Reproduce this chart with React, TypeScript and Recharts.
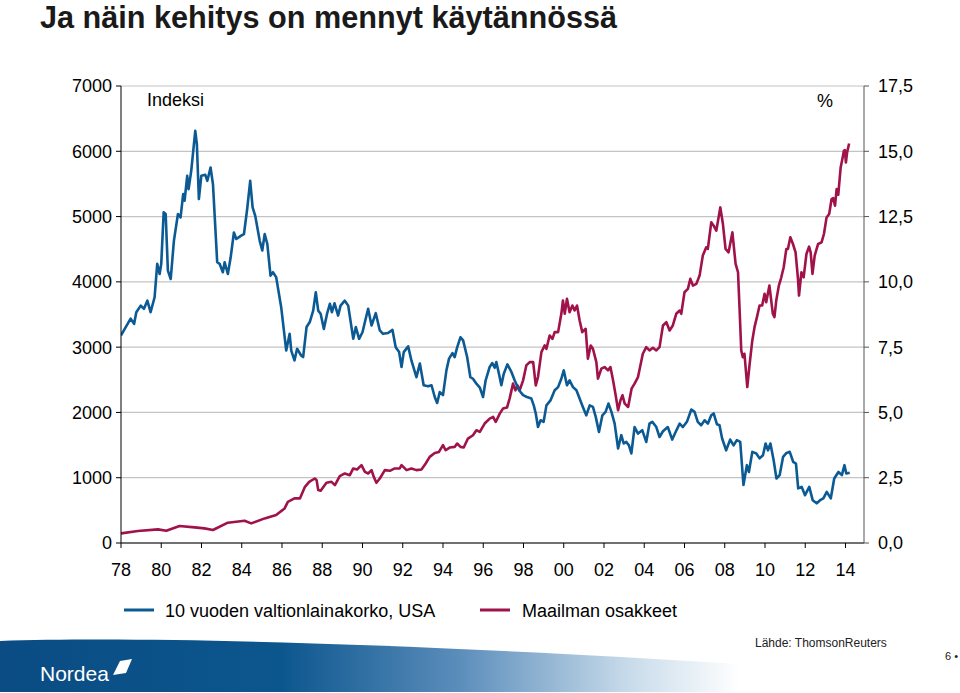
import React from 'react';
import { LineChart, Line, XAxis, YAxis, CartesianGrid } from 'recharts';

// 10-year US government bond yield (%), right axis
const yieldYears = [
  1978.0, 1978.48, 1978.65, 1978.76, 1978.98, 1979.14, 1979.31, 1979.47, 1979.67, 1979.8, 1979.92,
  1980.0, 1980.12, 1980.22, 1980.33, 1980.47, 1980.63, 1980.83, 1980.96, 1981.09, 1981.16, 1981.29,
  1981.36, 1981.49, 1981.69, 1981.77, 1981.87, 1981.99, 1982.19, 1982.29, 1982.45, 1982.57, 1982.78,
  1982.9, 1983.06, 1983.15, 1983.31, 1983.45, 1983.61, 1983.73, 1983.97, 1984.11, 1984.27, 1984.42,
  1984.54, 1984.67, 1984.89, 1985.02, 1985.14, 1985.27, 1985.43, 1985.55, 1985.71, 1985.96, 1986.21,
  1986.38, 1986.46, 1986.62, 1986.75, 1986.95, 1987.05, 1987.22, 1987.38, 1987.55, 1987.68, 1987.8,
  1987.92, 1988.08, 1988.24, 1988.38, 1988.48, 1988.61, 1988.79, 1988.91, 1989.12, 1989.29, 1989.54,
  1989.67, 1989.83, 1990.0, 1990.12, 1990.28, 1990.45, 1990.66, 1990.86, 1991.02, 1991.27, 1991.49,
  1991.65, 1991.82, 1991.94, 1992.05, 1992.27, 1992.43, 1992.68, 1992.85, 1993.04, 1993.26, 1993.43,
  1993.59, 1993.71, 1993.84, 1994.0, 1994.17, 1994.3, 1994.47, 1994.58, 1994.7, 1994.87, 1995.0,
  1995.2, 1995.36, 1995.49, 1995.66, 1995.83, 1995.99, 1996.12, 1996.32, 1996.45, 1996.57, 1996.65,
  1996.78, 1996.9, 1997.02, 1997.2, 1997.4, 1997.56, 1997.78, 1997.98, 1998.17, 1998.39, 1998.51,
  1998.61, 1998.72, 1998.85, 1999.0, 1999.14, 1999.34, 1999.55, 1999.72, 1999.88, 2000.0, 2000.16,
  2000.29, 2000.46, 2000.63, 2000.76, 2000.95, 2001.12, 2001.29, 2001.45, 2001.59, 2001.75, 2001.92,
  2002.08, 2002.22, 2002.37, 2002.53, 2002.7, 2002.86, 2002.98, 2003.11, 2003.24, 2003.36, 2003.52,
  2003.69, 2003.9, 2004.1, 2004.26, 2004.4, 2004.6, 2004.76, 2004.93, 2005.17, 2005.39, 2005.56,
  2005.76, 2005.92, 2006.12, 2006.34, 2006.5, 2006.66, 2006.83, 2007.0, 2007.16, 2007.33, 2007.45,
  2007.61, 2007.74, 2007.87, 2008.07, 2008.27, 2008.44, 2008.6, 2008.77, 2008.93, 2009.1, 2009.2,
  2009.37, 2009.57, 2009.73, 2009.9, 2010.03, 2010.15, 2010.27, 2010.43, 2010.57, 2010.73, 2010.9,
  2011.07, 2011.23, 2011.4, 2011.54, 2011.65, 2011.82, 2011.99, 2012.2, 2012.37, 2012.57, 2012.74,
  2012.9, 2013.07, 2013.27, 2013.44, 2013.65, 2013.82, 2013.95, 2014.04, 2014.21,
];
const yieldValues = [
  7.95, 8.59, 8.39, 8.84, 9.09, 8.97, 9.28, 8.84, 9.41, 10.69, 10.3,
  10.69, 12.66, 12.6, 10.43, 10.11, 11.58, 12.6, 12.47, 13.36, 13.11, 14.06,
  13.55, 14.25, 15.78, 15.27, 13.17, 14.06, 14.1, 13.87, 14.38, 13.74, 10.75,
  10.69, 10.37, 10.75, 10.3, 10.94, 11.89, 11.64, 11.77, 11.83, 12.79, 13.87,
  12.85, 12.53, 11.58, 11.2, 11.83, 11.45, 10.24, 10.37, 10.18, 9.03, 7.37,
  8.01, 7.37, 6.99, 7.44, 7.18, 7.12, 8.27, 8.46, 8.9, 9.6, 8.9,
  8.78, 8.2, 8.78, 9.16, 8.84, 9.18, 8.71, 9.09, 9.28, 9.09, 7.82,
  8.27, 7.82, 8.07, 8.46, 8.97, 8.33, 8.8, 8.14, 8.01, 8.04, 8.16,
  7.5, 7.31, 6.74, 7.31, 7.53, 6.99, 6.35, 6.87, 6.04, 6.0, 6.04,
  5.59, 5.36, 5.78, 5.66, 6.61, 7.06, 7.27, 7.12, 7.48, 7.88, 7.76,
  7.12, 6.35, 6.29, 6.1, 5.95, 5.59, 6.23, 6.74, 6.89, 6.71, 6.93,
  6.48, 6.04, 6.48, 6.84, 6.55, 6.23, 5.85, 5.66, 5.59, 5.53, 5.27,
  4.96, 4.44, 4.7, 4.64, 5.27, 5.46, 5.85, 5.97, 6.29, 6.61, 6.04,
  6.23, 5.97, 5.85, 5.59, 5.21, 4.89, 5.27, 5.21, 4.83, 4.25, 4.89,
  5.02, 5.34, 5.02, 4.57, 3.62, 4.13, 3.81, 3.87, 3.74, 3.43, 4.44,
  4.19, 4.32, 3.87, 4.57, 4.64, 4.44, 4.06, 4.28, 4.44, 3.96, 4.25,
  4.57, 4.44, 4.64, 5.11, 5.02, 4.64, 4.51, 4.7, 4.57, 4.89, 4.96,
  4.55, 4.51, 4.0, 3.55, 3.96, 3.74, 3.94, 3.87, 2.22, 2.98, 2.72,
  3.49, 3.43, 3.24, 3.36, 3.81, 3.55, 3.81, 3.17, 2.47, 2.6, 3.3,
  3.45, 3.49, 3.11, 3.04, 2.09, 2.15, 1.83, 2.15, 1.64, 1.52, 1.64,
  1.71, 1.96, 1.71, 2.47, 2.72, 2.6, 2.98, 2.66, 2.69,
];

// World equities index, left axis
const stockYears = [
  1978.0, 1978.84, 1979.84, 1980.25, 1980.91, 1981.66, 1982.15, 1982.57, 1983.31, 1984.14, 1984.47,
  1985.14, 1985.71, 1986.13, 1986.29, 1986.62, 1986.89, 1987.14, 1987.35, 1987.63, 1987.72, 1987.8,
  1987.92, 1988.21, 1988.46, 1988.63, 1988.87, 1989.12, 1989.37, 1989.54, 1989.73, 1989.95, 1990.12,
  1990.28, 1990.45, 1990.56, 1990.69, 1990.86, 1991.11, 1991.36, 1991.6, 1991.85, 1991.94, 1992.19,
  1992.43, 1992.68, 1992.93, 1993.14, 1993.34, 1993.59, 1993.8, 1994.0, 1994.13, 1994.33, 1994.58,
  1994.7, 1994.87, 1995.03, 1995.24, 1995.49, 1995.66, 1995.83, 1996.07, 1996.32, 1996.49, 1996.62,
  1996.82, 1996.98, 1997.18, 1997.31, 1997.48, 1997.6, 1997.7, 1997.81, 1997.98, 1998.14, 1998.31,
  1998.48, 1998.61, 1998.72, 1998.89, 1999.05, 1999.14, 1999.3, 1999.44, 1999.55, 1999.72, 1999.88,
  1999.96, 2000.05, 2000.16, 2000.29, 2000.43, 2000.54, 2000.66, 2000.79, 2000.92, 2001.09, 2001.2,
  2001.34, 2001.45, 2001.62, 2001.7, 2001.87, 2002.03, 2002.2, 2002.32, 2002.45, 2002.58, 2002.7,
  2002.82, 2002.92, 2003.03, 2003.2, 2003.37, 2003.52, 2003.69, 2003.93, 2004.1, 2004.26, 2004.43,
  2004.6, 2004.76, 2004.93, 2005.1, 2005.26, 2005.42, 2005.59, 2005.76, 2005.84, 2006.0, 2006.17,
  2006.29, 2006.42, 2006.59, 2006.75, 2006.91, 2007.08, 2007.16, 2007.33, 2007.45, 2007.58, 2007.78,
  2007.91, 2008.04, 2008.19, 2008.38, 2008.54, 2008.66, 2008.74, 2008.82, 2008.9, 2008.98, 2009.12,
  2009.23, 2009.37, 2009.48, 2009.6, 2009.73, 2009.86, 2009.98, 2010.06, 2010.22, 2010.39, 2010.47,
  2010.56, 2010.69, 2010.81, 2010.93, 2011.06, 2011.14, 2011.26, 2011.39, 2011.52, 2011.64, 2011.69,
  2011.81, 2011.92, 2012.06, 2012.19, 2012.27, 2012.36, 2012.47, 2012.64, 2012.81, 2012.93, 2013.06,
  2013.19, 2013.31, 2013.39, 2013.48, 2013.56, 2013.64, 2013.76, 2013.86, 2013.92, 2013.97, 2014.02,
  2014.08, 2014.18,
];
const stockValues = [
  148, 183, 209, 188, 260, 240, 224, 199, 311, 341, 301,
  377, 428, 530, 631, 683, 683, 861, 937, 988, 963, 810,
  800, 922, 937, 886, 1024, 1065, 1039, 1142, 1126, 1192, 1090,
  1065, 1116, 1014, 922, 988, 1116, 1106, 1142, 1142, 1192, 1116,
  1142, 1116, 1126, 1218, 1319, 1380, 1395, 1498, 1421, 1462, 1472,
  1524, 1472, 1462, 1600, 1651, 1727, 1701, 1830, 1906, 1931, 1854,
  1982, 2059, 2074, 2212, 2441, 2338, 2415, 2338, 2491, 2720, 2771,
  2771, 2415, 2542, 2924, 3026, 2975, 3179, 3128, 3230, 3230, 3511,
  3714, 3511, 3740, 3535, 3638, 3561, 3638, 3408, 3230, 3281, 2823,
  3026, 2975, 2771, 2517, 2670, 2695, 2644, 2695, 2491, 2262, 2033,
  2186, 2262, 2135, 2084, 2364, 2441, 2542, 2899, 3000, 2950, 2991,
  2950, 3000, 3332, 3382, 3255, 3332, 3511, 3561, 3511, 3841, 3893,
  4046, 3943, 3969, 4096, 4402, 4529, 4504, 4911, 4860, 4784, 5140,
  4886, 4504, 4452, 4758, 4275, 4147, 3561, 2950, 2847, 2899, 2389,
  2720, 3103, 3306, 3459, 3638, 3638, 3817, 3688, 3943, 3511, 3459,
  3714, 3943, 4070, 4223, 4504, 4504, 4682, 4580, 4452, 4046, 3790,
  4147, 4070, 4427, 4539, 4452, 4122, 4402, 4580, 4605, 4733, 4987,
  5039, 5268, 5283, 5166, 5421, 5334, 5751, 5904, 6007, 6017, 5828,
  5980, 6118,
];

const xTicks = [1978, 1980, 1982, 1984, 1986, 1988, 1990, 1992, 1994, 1996, 1998, 2000, 2002, 2004, 2006, 2008, 2010, 2012, 2014];
const leftTicks = [0, 1000, 2000, 3000, 4000, 5000, 6000, 7000];
const rightTicks = [0, 2.5, 5, 7.5, 10, 12.5, 15, 17.5];
const seriesNames = ['10 vuoden valtionlainakorko, USA', 'Maailman osakkeet'];

const yieldData = yieldYears.map((x, i) => ({ x, v: yieldValues[i] }));
const stockData = stockYears.map((x, i) => ({ x, v: stockValues[i] }));

const BLUE = '#0b5a94';
const RED = '#a0124a';
const FONT = "'Liberation Sans', Arial, Helvetica, sans-serif";
const tickStyle = { fill: '#000', fontSize: 18, fontFamily: FONT };

export default function App() {
  return (
    <div style={{ position: 'absolute', left: 0, top: 0, width: 960, height: 693, background: '#fff', overflow: 'hidden' }}>
      <svg width={960} height={693} style={{ position: 'absolute', left: 0, top: 0 }}>
        <defs>
          <linearGradient id="band" x1="0" y1="0" x2="1" y2="0">
            <stop offset="0" stopColor="#0a4c83" />
            <stop offset="0.38" stopColor="#0c568e" />
            <stop offset="0.62" stopColor="#5b8dbb" />
            <stop offset="0.85" stopColor="#c8dbea" />
            <stop offset="1" stopColor="#ffffff" />
          </linearGradient>
        </defs>
        <text x={40} y={28} fontSize={31} fontWeight="bold" fontFamily={FONT} fill="#1a1a1a" textLength={577} lengthAdjust="spacingAndGlyphs">
          Ja näin kehitys on mennyt käytännössä
        </text>
        <path d="M0,641 C150,636 420,644 740,664 L740,692 L0,692 Z" fill="url(#band)" />
        <text x={40} y={681} fontSize={21} fontFamily={FONT} fill="#fff">Nordea</text>
        <path d="M113,675 L120,661 L132,659 L126,673 Z" fill="#fff" />
        <text x={755} y={647} fontSize={12} fontFamily={FONT} fill="#222">Lähde: ThomsonReuters</text>
        <text x={945} y={660} fontSize={11} fontFamily={FONT} fill="#222">6 •</text>
        <line x1={124} y1={610} x2={154} y2={610} stroke={BLUE} strokeWidth={3} />
        <text x={165} y={617} fontSize={18} fontFamily={FONT} fill="#000">{seriesNames[0]}</text>
        <line x1={480} y1={610} x2={510} y2={610} stroke={RED} strokeWidth={3} />
        <text x={522} y={617} fontSize={18} fontFamily={FONT} fill="#000">{seriesNames[1]}</text>
        <text x={147} y={106} fontSize={18} fontFamily={FONT} fill="#000">Indeksi</text>
        <text x={817} y={107} fontSize={18} fontFamily={FONT} fill="#000">%</text>
      </svg>
      <div style={{ position: 'absolute', left: 0, top: 0 }}>
        <LineChart width={960} height={693} margin={{ top: 86, right: 0, bottom: 0, left: 0 }}>
          <CartesianGrid yAxisId="l" xAxisId="x" vertical={false} horizontal stroke="#c4c4c4" strokeWidth={1.2} />
          <XAxis
            xAxisId="x"
            dataKey="x"
            type="number"
            domain={[1978, 2014.92]}
            allowDataOverflow
            ticks={xTicks}
            interval={0}
            height={150}
            tickSize={5}
            tickMargin={15}
            tick={tickStyle}
            stroke="#000"
            tickFormatter={(v: number) => String(v % 100).padStart(2, '0')}
          />
          <YAxis
            yAxisId="l"
            orientation="left"
            domain={[0, 7000]}
            ticks={leftTicks}
            interval={0}
            width={121}
            tickSize={5}
            tickMargin={4}
            tick={tickStyle}
            stroke="#000"
          />
          <YAxis
            yAxisId="r"
            orientation="right"
            domain={[0, 17.5]}
            ticks={rightTicks}
            interval={0}
            width={96}
            tickSize={5}
            tickMargin={9}
            tick={tickStyle}
            stroke="#555"
            tickFormatter={(v: number) => v.toFixed(1).replace('.', ',')}
          />
          <Line
            xAxisId="x"
            yAxisId="l"
            data={stockData}
            dataKey="v"
            stroke={RED}
            strokeWidth={2.6}
            dot={false}
            strokeLinejoin="round"
            isAnimationActive={false}
          />
          <Line
            xAxisId="x"
            yAxisId="r"
            data={yieldData}
            dataKey="v"
            stroke={BLUE}
            strokeWidth={2.6}
            dot={false}
            strokeLinejoin="round"
            isAnimationActive={false}
          />
        </LineChart>
      </div>
    </div>
  );
}
